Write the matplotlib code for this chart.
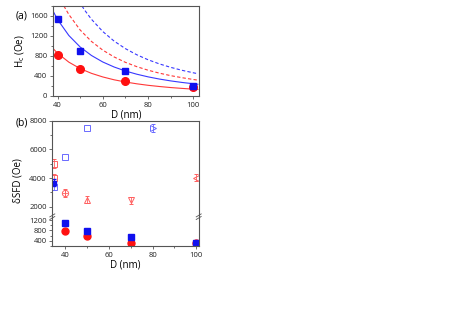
import numpy as np
import matplotlib
matplotlib.use("Agg")
import matplotlib.pyplot as plt
from matplotlib.ticker import MultipleLocator

plt.rcParams['font.family'] = ['Open Sans', 'DejaVu Sans']

# ─── Panel (a) data ─────────────────────────────────────────────────────────────
D_meas      = [40, 50, 70, 100]
hc_blue     = [1550, 900, 510, 200]
hc_red      = [830, 540, 310, 185]

D_fit       = [38, 40, 45, 50, 55, 60, 65, 70, 75, 80, 85, 90, 95, 100, 102]
fit_blue    = [1700, 1530, 1210, 980, 810, 680, 580, 500, 436, 383, 339, 302, 271, 245, 235]
fit_red     = [950, 856, 677, 548, 453, 381, 324, 280, 244, 214, 190, 169, 152, 137, 132]

D_dash_blue = [50.8, 52, 55, 60, 65, 70, 75, 80, 85, 90, 95, 100, 102]
dash_blue   = [1800, 1716, 1534, 1289, 1098, 947, 825, 725, 642, 573, 514, 464, 446]
D_dash_red  = [42.8, 45, 50, 55, 60, 65, 70, 75, 80, 85, 90, 95, 100, 102]
dash_red    = [1800, 1630, 1320, 1091, 917, 781, 673, 587, 516, 457, 407, 366, 330, 317]

# ─── Panel (b) data ─────────────────────────────────────────────────────────────
D_low       = [40, 50, 70, 100]
sfd_blue    = [1080, 790, 550, 310]
sfd_red     = [790, 590, 310, 300]

# open symbols (x, y, err)
bsq_x, bsq_y, bsq_e = [35], [3400], [250]
bsq2_x, bsq2_y      = [40, 50], [5500, 7500]
btr_x, btr_y, btr_e = [80], [7480], [300]
rsq_x, rsq_y, rsq_e = [35, 35], [5000, 4020], [300, 250]
rci_x, rci_y, rci_e = [40], [2980], [280]
rup_x, rup_y, rup_e = [50], [2480], [250]
rdn_x, rdn_y, rdn_e = [70], [2450], [250]
rlt_x, rlt_y, rlt_e = [100], [4020], [250]
bfill_x, bfill_y, bfill_e = [35], [3680], [250]

BLUE, RED = '#1010ee', '#ff1010'
LBLUE, LRED = '#6a6aff', '#ff6060'
SPINE = '#555555'

W, H = 463, 328
fig = plt.figure(figsize=(W / 100, H / 100), dpi=100)

def style(ax, fs=5.5):
    for s in ax.spines.values():
        s.set_color(SPINE)
        s.set_linewidth(0.8)
    ax.tick_params(which='both', direction='out', colors=SPINE, labelcolor='#222222',
                   labelsize=fs, width=0.6, top=False, right=False)
    ax.tick_params(which='major', length=2.5, pad=1.5)
    ax.tick_params(which='minor', length=1.5)

# ─── (a) ────────────────────────────────────────────────────────────────────────
axa = fig.add_axes([53 / W, 1 - 96 / H, 146 / W, 90 / H])
axa.plot(D_fit, fit_blue, color='#3838ff', lw=0.8)
axa.plot(D_fit, fit_red, color='#ff3838', lw=0.8)
axa.plot(D_dash_blue, dash_blue, color='#3838ff', lw=0.8, ls=(0, (3, 2)))
axa.plot(D_dash_red, dash_red, color='#ff3838', lw=0.8, ls=(0, (3, 2)))
axa.plot(D_meas, hc_red, 'o', color=RED, ms=5.5, mec=RED)
axa.plot(D_meas, hc_blue, 's', color=BLUE, ms=5, mec=BLUE)
axa.set_xlim(38, 102.5)
axa.set_ylim(0, 1800)
axa.xaxis.set_major_locator(MultipleLocator(20))
axa.xaxis.set_minor_locator(MultipleLocator(10))
axa.yaxis.set_major_locator(MultipleLocator(400))
axa.yaxis.set_minor_locator(MultipleLocator(200))
style(axa)
axa.set_xlabel('D (nm)', fontsize=7, labelpad=1)
axa.set_ylabel('H$_\\mathregular{c}$ (Oe)', fontsize=7, labelpad=2)
fig.text(16 / W, 1 - 16 / H, '(a)', fontsize=7.5, va='center')

# ─── (b) upper ──────────────────────────────────────────────────────────────────
axu = fig.add_axes([52.3 / W, 1 - 216.7 / H, 146.4 / W, 96 / H])
axl = fig.add_axes([52.3 / W, 1 - 246 / H, 146.4 / W, 29.3 / H], sharex=axu)

eb = dict(ls='none', capsize=1.2, elinewidth=0.6, capthick=0.6, ms=4.5, mew=0.7,
          mfc='none')
axu.errorbar(bsq_x, bsq_y, yerr=bsq_e, fmt='s', color=LBLUE, **eb)
axu.plot(bsq2_x, bsq2_y, 's', color=LBLUE, ms=4.5, mew=0.7, mfc='none')
axu.errorbar(btr_x, btr_y, yerr=btr_e, fmt='>', color=LBLUE, **eb)
axu.errorbar(rsq_x, rsq_y, yerr=rsq_e, fmt='s', color=LRED, **eb)
axu.errorbar(rci_x, rci_y, yerr=rci_e, fmt='o', color=LRED, **eb)
axu.plot(rci_x, rci_y, '+', color=LRED, ms=4.5, mew=0.6)
axu.errorbar(rup_x, rup_y, yerr=rup_e, fmt='^', color=LRED, **eb)
axu.errorbar(rdn_x, rdn_y, yerr=rdn_e, fmt='v', color=LRED, **eb)
axu.errorbar(rlt_x, rlt_y, yerr=rlt_e, fmt='<', color=LRED, **eb)
axu.errorbar(bfill_x, bfill_y, yerr=bfill_e, fmt='s', color=BLUE, ls='none',
             capsize=1.2, elinewidth=0.6, ms=3.5)
axu.set_ylim(1300, 8000)
axu.set_xlim(34, 101.2)
axu.yaxis.set_major_locator(MultipleLocator(2000))
axu.yaxis.set_minor_locator(MultipleLocator(1000))
style(axu)
axu.spines['bottom'].set_visible(False)
axu.tick_params(axis='x', which='both', bottom=False, labelbottom=False)

axl.plot(D_low, sfd_red, 'o', color=RED, ms=5)
axl.plot(D_low, sfd_blue, 's', color=BLUE, ms=4.5)
axl.set_ylim(200, 1330)
axl.yaxis.set_major_locator(MultipleLocator(400))
axl.yaxis.set_minor_locator(MultipleLocator(200))
axl.xaxis.set_major_locator(MultipleLocator(20))
axl.xaxis.set_minor_locator(MultipleLocator(10))
style(axl)
axl.spines['top'].set_visible(False)
axl.set_xlabel('D (nm)', fontsize=7, labelpad=1)
fig.text(18 / W, 1 - 181 / H, 'δSFD (Oe)', fontsize=7, rotation=90,
         ha='center', va='center')
fig.text(16 / W, 1 - 123 / H, '(b)', fontsize=7.5, va='center')

# break marks
for xb in (52.3, 198.7):
    for dy in (-1.3, 1.3):
        x0, x1 = (xb - 2.5) / W, (xb + 2.5) / W
        y0, y1 = 1 - (216.7 + dy + 1.5) / H, 1 - (216.7 + dy - 1.5) / H
        fig.add_artist(plt.Line2D([x0, x1], [y0, y1], color=SPINE, lw=0.6))

fig.savefig('out.png', dpi=100)
